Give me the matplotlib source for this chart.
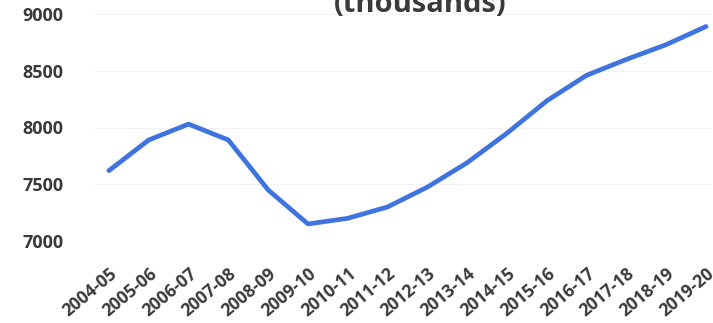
import matplotlib
matplotlib.use("Agg")
import matplotlib.pyplot as plt

# school years and values (thousands)
years = ["2004-05", "2005-06", "2006-07", "2007-08", "2008-09", "2009-10",
         "2010-11", "2011-12", "2012-13", "2013-14", "2014-15", "2015-16",
         "2016-17", "2017-18", "2018-19", "2019-20"]
values = [7620, 7890, 8030, 7890, 7450, 7150, 7200, 7300, 7475, 7690,
          7950, 8235, 8460, 8600, 8730, 8890]
yticks = [7000, 7500, 8000, 8500, 9000]

plt.rcParams["font.family"] = ["Open Sans", "DejaVu Sans"]
txt = "#3a3a3a"

fig = plt.figure(figsize=(7.13, 3.23), dpi=100)
ax = fig.add_axes([95 / 713, (323 - 241) / 323, 617 / 713, 227 / 323])

x = list(range(len(years)))
ax.plot(x, values, color="#3f74df", lw=3.4, solid_joinstyle="round",
        solid_capstyle="round")

ax.set_ylim(7000, 9000)
ax.set_xlim(-0.35, 15.15)
ax.set_yticks(yticks)
ax.set_yticklabels([str(v) for v in yticks], fontsize=13, fontweight="bold",
                   color=txt)
ax.set_xticks(x)
ax.set_xticklabels(years, rotation=40, ha="right", rotation_mode="anchor",
                   fontsize=12.5, fontweight="bold", color=txt)
ax.tick_params(axis="both", length=0)
ax.tick_params(axis="x", pad=17)
ax.tick_params(axis="y", pad=52)
for lbl in ax.get_yticklabels():
    lbl.set_ha("left")

ax.grid(axis="y", color="#f2f2f2", lw=0.8)
for s in ax.spines.values():
    s.set_visible(False)

fig.text(420 / 713, 1 - 5 / 323, "(thousands)", ha="center", va="center",
         fontsize=21, fontweight="bold", color=txt)

fig.savefig("out.png", dpi=100)
